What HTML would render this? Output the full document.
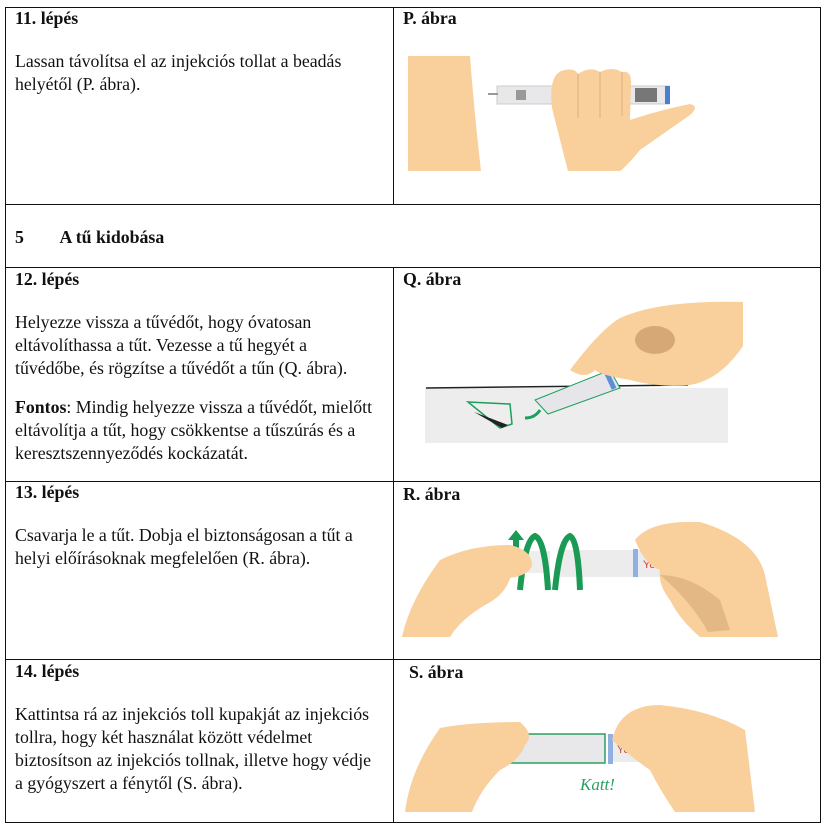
<!DOCTYPE html>
<html><head><meta charset="utf-8"><style>
body{margin:0;width:827px;height:829px;background:#fff;position:relative;overflow:hidden;font-family:"Liberation Serif",serif;font-size:17.8px;color:#111}
.l{position:absolute;background:#111}
.t{position:absolute;line-height:23px;white-space:nowrap}
b{font-weight:bold}
svg{position:absolute;left:0;top:0}
</style></head><body>
<div class="l" style="left:5px;top:7px;width:816px;height:1px"></div>
<div class="l" style="left:5px;top:204px;width:816px;height:1px"></div>
<div class="l" style="left:5px;top:267px;width:816px;height:1px"></div>
<div class="l" style="left:5px;top:481px;width:816px;height:1px"></div>
<div class="l" style="left:5px;top:659px;width:816px;height:1px"></div>
<div class="l" style="left:5px;top:822px;width:816px;height:1px"></div>
<div class="l" style="left:5px;top:7px;width:1px;height:816px"></div>
<div class="l" style="left:820px;top:7px;width:1px;height:816px"></div>
<div class="l" style="left:393px;top:7px;width:1px;height:198px"></div>
<div class="l" style="left:393px;top:267px;width:1px;height:556px"></div>

<div class="t" style="left:15px;top:7px"><b>11. lépés</b></div>
<div class="t" style="left:15px;top:50px">Lassan távolítsa el az injekciós tollat a beadás<br>helyétől (P. ábra).</div>
<div class="t" style="left:403px;top:7px"><b>P. ábra</b></div>
<div class="t" style="left:15px;top:226px"><b>5&nbsp;&nbsp;&nbsp;&nbsp;&nbsp;&nbsp;&nbsp;&nbsp;A tű kidobása</b></div>
<div class="t" style="left:15px;top:268px"><b>12. lépés</b></div>
<div class="t" style="left:15px;top:311px">Helyezze vissza a tűvédőt, hogy óvatosan<br>eltávolíthassa a tűt. Vezesse a tű hegyét a<br>tűvédőbe, és rögzítse a tűvédőt a tűn (Q. ábra).</div>
<div class="t" style="left:15px;top:396px"><b>Fontos</b>: Mindig helyezze vissza a tűvédőt, mielőtt<br>eltávolítja a tűt, hogy csökkentse a tűszúrás és a<br>keresztszennyeződés kockázatát.</div>
<div class="t" style="left:403px;top:268px"><b>Q. ábra</b></div>
<div class="t" style="left:15px;top:481px"><b>13. lépés</b></div>
<div class="t" style="left:15px;top:524px">Csavarja le a tűt. Dobja el biztonságosan a tűt a<br>helyi előírásoknak megfelelően (R. ábra).</div>
<div class="t" style="left:403px;top:483px"><b>R. ábra</b></div>
<div class="t" style="left:15px;top:660px"><b>14. lépés</b></div>
<div class="t" style="left:15px;top:703px">Kattintsa rá az injekciós toll kupakját az injekciós<br>tollra, hogy két használat között védelmet<br>biztosítson az injekciós tollnak, illetve hogy védje<br>a gyógyszert a fénytől (S. ábra).</div>
<div class="t" style="left:409px;top:661px"><b>S. ábra</b></div>

<svg width="827" height="829">
<!-- P -->
<path d="M408 56 H470 Q474 110 481 171 H408Z" fill="#f9cf9c"/>
<rect x="497" y="86" width="172" height="18" fill="#e8e8ea" stroke="#ccc"/>
<rect x="488" y="93" width="10" height="2" fill="#999"/>
<rect x="516" y="90" width="10" height="10" fill="#999"/>
<rect x="635" y="88" width="22" height="14" fill="#777"/>
<rect x="665" y="86" width="5" height="18" fill="#4a7fd0"/>
<path d="M552 108 Q548 72 565 70 Q575 68 578 74 Q590 66 600 72 Q612 66 622 72 Q632 70 631 85 L630 120 Q660 110 690 104 Q700 106 690 115 L640 150 Q625 168 620 171 H568 Q560 140 552 108Z" fill="#f9cf9c"/>
<path d="M578 74 V118 M600 72 V118 M622 72 V116" stroke="#e9b985" stroke-width="1.5"/>
<!-- Q -->
<rect x="425" y="388" width="303" height="55" fill="#ededed"/>
<line x1="426" y1="388" x2="688" y2="385" stroke="#222" stroke-width="1.5"/>
<path d="M468 402 L510 404 L512 424 L500 428Z" fill="#eee" stroke="#1aa05a" stroke-width="1.5"/>
<path d="M474 412 L502 428 L508 425Z" fill="#222"/>
<path d="M535 400 L610 370 L620 388 L548 414Z" fill="#e5e5ea" stroke="#1aa05a" stroke-width="1"/>
<rect x="607" y="368" width="5" height="22" fill="#5c8fd6" transform="rotate(-25 609 379)"/>
<path d="M525 418 Q535 418 540 410" stroke="#1aa05a" stroke-width="3" fill="none"/>
<path d="M570 370 Q600 330 620 318 Q660 300 743 302 V346 Q720 380 690 385 Q660 388 630 380 Q600 375 595 370 Q585 380 570 370Z" fill="#f9cf9c"/>
<ellipse cx="655" cy="340" rx="20" ry="14" fill="#d6a876"/>
<!-- R -->
<rect x="490" y="551" width="60" height="22" fill="#eee"/>
<rect x="560" y="550" width="175" height="27" fill="#ececec"/>
<rect x="633" y="549" width="5" height="28" fill="#8fb0e0"/>
<text x="643" y="568" font-family="Liberation Sans,sans-serif" font-size="11" fill="#d04030">Yorvi   th</text>
<path d="M520 590 Q525 540 535 536 Q545 540 548 590 M555 590 Q560 540 570 536 Q578 540 580 590" stroke="#1a9a55" stroke-width="6" fill="none"/>
<path d="M508 540 L516 530 L524 540 H519 V558 H513 V540Z" fill="#1a9a55"/>
<path d="M402 637 Q410 600 440 560 Q470 545 510 545 Q532 550 532 565 Q530 575 510 578 Q505 595 485 605 Q460 620 450 637Z" fill="#f9cf9c"/>
<path d="M635 540 Q650 520 700 522 Q760 540 766 580 L778 637 H700 Q680 620 670 600 Q658 585 660 570 Q645 565 635 540Z" fill="#f9cf9c"/>
<path d="M660 575 Q690 575 720 600 L730 630 L708 632 Q690 600 660 575Z" fill="#d6a876" opacity=".6"/>
<!-- S -->
<rect x="488" y="734" width="117" height="29" fill="#e8e8ea" stroke="#2aa060" stroke-width="1.5"/>
<rect x="609" y="735" width="104" height="27" fill="#ececec"/>
<rect x="608" y="734" width="5" height="30" fill="#8fb0e0"/>
<text x="617" y="753" font-family="Liberation Sans,sans-serif" font-size="11" fill="#d04030">Yorvi   th</text>
<path d="M443 744 H462 V735 L477 750 L462 765 V756 H443Z" fill="#1a9a55"/>
<path d="M405 812 Q410 770 440 728 Q470 722 520 722 Q535 735 525 745 Q520 760 500 770 Q480 790 472 812Z" fill="#f9cf9c"/>
<path d="M612 740 Q620 705 660 705 Q710 710 745 730 L755 812 H675 Q660 790 650 770 Q635 760 612 740Z" fill="#f9cf9c"/>
<text x="580" y="790" font-family="Liberation Serif,serif" font-size="17" fill="#2aa060" font-style="italic">Katt!</text>
</svg>
</body></html>
